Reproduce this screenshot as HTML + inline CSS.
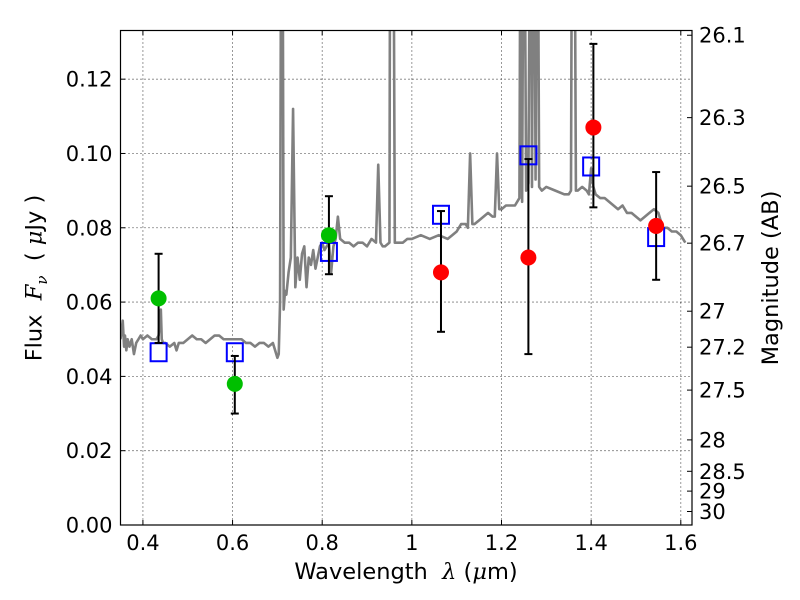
<!DOCTYPE html>
<html><head><meta charset="utf-8"><style>
html,body{margin:0;padding:0;background:#fff;}
svg{display:block;font-family:"DejaVu Sans","Liberation Sans",sans-serif;}
</style></head><body>
<svg id="chart" width="800" height="600" viewBox="0 0 800 600"></svg>
<script>
const waveSpec = [0.350,0.355,0.358,0.360,0.363,0.366,0.370,0.375,0.380,0.385,0.390,0.395,0.400,0.410,0.420,0.430,0.435,0.440,0.442,0.445,0.450,0.460,0.470,0.475,0.480,0.490,0.500,0.510,0.520,0.530,0.540,0.550,0.560,0.570,0.580,0.590,0.600,0.610,0.620,0.630,0.640,0.650,0.660,0.670,0.680,0.690,0.700,0.703,0.706,0.709,0.711,0.714,0.717,0.720,0.725,0.730,0.735,0.740,0.745,0.750,0.755,0.760,0.765,0.770,0.775,0.780,0.785,0.790,0.795,0.800,0.805,0.810,0.815,0.820,0.825,0.830,0.835,0.840,0.850,0.860,0.870,0.880,0.890,0.900,0.910,0.920,0.925,0.930,0.935,0.940,0.950,0.952,0.958,0.962,0.970,0.980,0.990,1.000,1.020,1.040,1.060,1.080,1.090,1.100,1.110,1.120,1.125,1.130,1.135,1.140,1.150,1.160,1.170,1.180,1.185,1.190,1.195,1.200,1.210,1.220,1.230,1.240,1.243,1.246,1.250,1.255,1.260,1.265,1.268,1.272,1.276,1.280,1.284,1.290,1.300,1.320,1.340,1.350,1.355,1.358,1.362,1.366,1.370,1.380,1.390,1.395,1.400,1.405,1.410,1.420,1.430,1.440,1.450,1.460,1.470,1.480,1.490,1.500,1.510,1.520,1.530,1.540,1.550,1.555,1.560,1.570,1.580,1.590,1.600,1.610,1.620,1.625];
const fluxSpec = [0.050,0.055,0.048,0.051,0.047,0.050,0.048,0.050,0.046,0.049,0.050,0.051,0.050,0.051,0.050,0.050,0.051,0.058,0.050,0.049,0.049,0.048,0.049,0.047,0.049,0.049,0.050,0.051,0.050,0.050,0.049,0.050,0.051,0.051,0.050,0.050,0.050,0.050,0.050,0.049,0.049,0.048,0.049,0.049,0.048,0.049,0.045,0.046,0.060,0.200,0.200,0.058,0.063,0.062,0.068,0.072,0.112,0.064,0.072,0.066,0.073,0.075,0.064,0.072,0.070,0.074,0.069,0.072,0.075,0.076,0.074,0.075,0.076,0.068,0.075,0.077,0.083,0.077,0.076,0.076,0.075,0.076,0.076,0.075,0.077,0.076,0.097,0.076,0.075,0.075,0.076,0.200,0.200,0.076,0.076,0.076,0.077,0.077,0.078,0.077,0.078,0.077,0.078,0.079,0.081,0.081,0.080,0.100,0.081,0.081,0.082,0.083,0.084,0.083,0.083,0.100,0.085,0.085,0.086,0.086,0.086,0.088,0.200,0.087,0.200,0.090,0.092,0.200,0.091,0.200,0.093,0.200,0.091,0.090,0.091,0.090,0.089,0.089,0.090,0.200,0.200,0.090,0.090,0.091,0.090,0.089,0.096,0.091,0.089,0.088,0.088,0.087,0.086,0.085,0.086,0.084,0.084,0.083,0.082,0.083,0.084,0.085,0.084,0.082,0.080,0.080,0.079,0.079,0.078,0.076];
const greenWave = [0.435,0.605,0.815];
const greenFlux = [0.061,0.038,0.078];
const greenHi = [0.073,0.0455,0.0885];
const greenLo = [0.049,0.030,0.0675];
const redWave = [1.065,1.26,1.405,1.545];
const redFlux = [0.068,0.072,0.107,0.0805];
const redHi = [0.0845,0.0985,0.1295,0.095];
const redLo = [0.052,0.046,0.0855,0.066];
const modelWave = [0.435,0.605,0.815,1.065,1.26,1.40,1.545];
const modelFlux = [0.0465,0.0465,0.0735,0.0835,0.0995,0.0965,0.0775];
const xTicks = [0.4,0.6,0.8,1.0,1.2,1.4,1.6];
const xTickLabels = ["0.4","0.6","0.8","1","1.2","1.4","1.6"];
const yTicks = [0,0.02,0.04,0.06,0.08,0.10,0.12];
const yTickLabels = ["0.00","0.02","0.04","0.06","0.08","0.10","0.12"];
const magTicks = [26.1,26.3,26.5,26.7,27,27.2,27.5,28,28.5,29,30];

const L=120.5,R=692,T=30.5,B=525;
const X0=0.35,X1=1.625,Y0=0,Y1=0.1331;
const sx=v=>L+(v-X0)/(X1-X0)*(R-L);
const sy=v=>B-(v-Y0)/(Y1-Y0)*(B-T);
const NS="http://www.w3.org/2000/svg";
const svg=document.getElementById('chart');
function mk(tag,attrs,parent){const e=document.createElementNS(NS,tag);for(const k in attrs)e.setAttribute(k,attrs[k]);(parent||svg).appendChild(e);return e;}

const defs=mk('defs',{});
const cp=mk('clipPath',{id:'clip'},defs);
mk('rect',{x:L,y:T,width:R-L,height:B-T},cp);

const grid=mk('g',{});


xTicks.forEach(v=>{mk('line',{x1:sx(v),x2:sx(v),y1:T,y2:B,stroke:'#000','stroke-width':0.8,'stroke-dasharray':'1,3'},grid);});
yTicks.forEach(v=>{mk('line',{x1:L,x2:R,y1:sy(v),y2:sy(v),stroke:'#000','stroke-width':0.8,'stroke-dasharray':'1,3'},grid);});

const d=waveSpec.map((w,i)=>(i?'L':'M')+sx(w).toFixed(2)+','+sy(fluxSpec[i]).toFixed(2)).join(' ');
const sp=mk('path',{d:d,fill:'none',stroke:'#808080','stroke-width':2.6,'stroke-linejoin':'round','clip-path':'url(#clip)'});



modelWave.forEach((w,i)=>{
  const r=mk('rect',{x:sx(w)-8,y:sy(modelFlux[i])-9,width:16,height:18,fill:'none',stroke:'#0000ff','stroke-width':2});
  
  
});

function errPts(ws,fs,hi,lo,color,name){
  ws.forEach((w,i)=>{
    const g=mk('g',{});
    
    
    const x=sx(w);
    mk('line',{x1:x,x2:x,y1:sy(hi[i]),y2:sy(lo[i]),stroke:'#000','stroke-width':2},g);
    mk('line',{x1:x-4,x2:x+4,y1:sy(hi[i]),y2:sy(hi[i]),stroke:'#000','stroke-width':2},g);
    mk('line',{x1:x-4,x2:x+4,y1:sy(lo[i]),y2:sy(lo[i]),stroke:'#000','stroke-width':2},g);
    mk('circle',{cx:x,cy:sy(fs[i]),r:8,fill:color},g);
  });
}
errPts(greenWave,greenFlux,greenHi,greenLo,'#00bf00','optical-photometry-point');
errPts(redWave,redFlux,redHi,redLo,'#ff0000','nir-photometry-point');

const fr=mk('rect',{x:L,y:T,width:R-L,height:B-T,fill:'none',stroke:'#000','stroke-width':1.2});



xTicks.forEach((v,i)=>{
  mk('line',{x1:sx(v),x2:sx(v),y1:B,y2:B-5,stroke:'#000'});
  mk('line',{x1:sx(v),x2:sx(v),y1:T,y2:T+5,stroke:'#000'});
  const t=mk('text',{x:sx(v),y:B+25,'font-size':21,'text-anchor':'middle'});
  t.textContent=xTickLabels[i];
  
  
});
yTicks.forEach((v,i)=>{
  mk('line',{x1:L,x2:L+5,y1:sy(v),y2:sy(v),stroke:'#000'});
  const t=mk('text',{x:L-8,y:sy(v)+7.5,'font-size':21,'text-anchor':'end'});
  t.textContent=yTickLabels[i];
  
  
});
magTicks.forEach(m=>{
  const f=Math.pow(10,(23.9-m)/2.5);
  const y=sy(f);
  mk('line',{x1:R,x2:R-5,y1:y,y2:y,stroke:'#000'});
  const t=mk('text',{x:R+7,y:y+7.5,'font-size':21});
  t.textContent=String(m);
  
  
});
</script>
<div style="position:absolute;left:0;top:0;width:800px;height:600px;pointer-events:none;font-family:'DejaVu Sans','Liberation Sans',sans-serif;">
  <div style="position:absolute;left:0;width:812px;top:559px;text-align:center;font-size:22.5px;">Wavelength&nbsp; <i style="font-family:'DejaVu Serif',serif">λ</i> (<i style="font-family:'DejaVu Serif',serif">μ</i>m)</div>
  <div style="position:absolute;left:36px;top:278px;width:0;height:0;">
    <div style="position:absolute;transform:translate(-50%,-50%) rotate(-90deg);white-space:nowrap;font-size:22.5px;">Flux&nbsp; <i style="font-family:'DejaVu Serif',serif">F<sub style="font-size:15px">ν</sub></i>&nbsp; ( <i style="font-family:'DejaVu Serif',serif">μ</i>Jy )</div>
  </div>
  <div style="position:absolute;left:771px;top:278px;width:0;height:0;">
    <div style="position:absolute;transform:translate(-50%,-50%) rotate(-90deg);white-space:nowrap;font-size:22.5px;">Magnitude (AB)</div>
  </div>
</div>
</body></html>
